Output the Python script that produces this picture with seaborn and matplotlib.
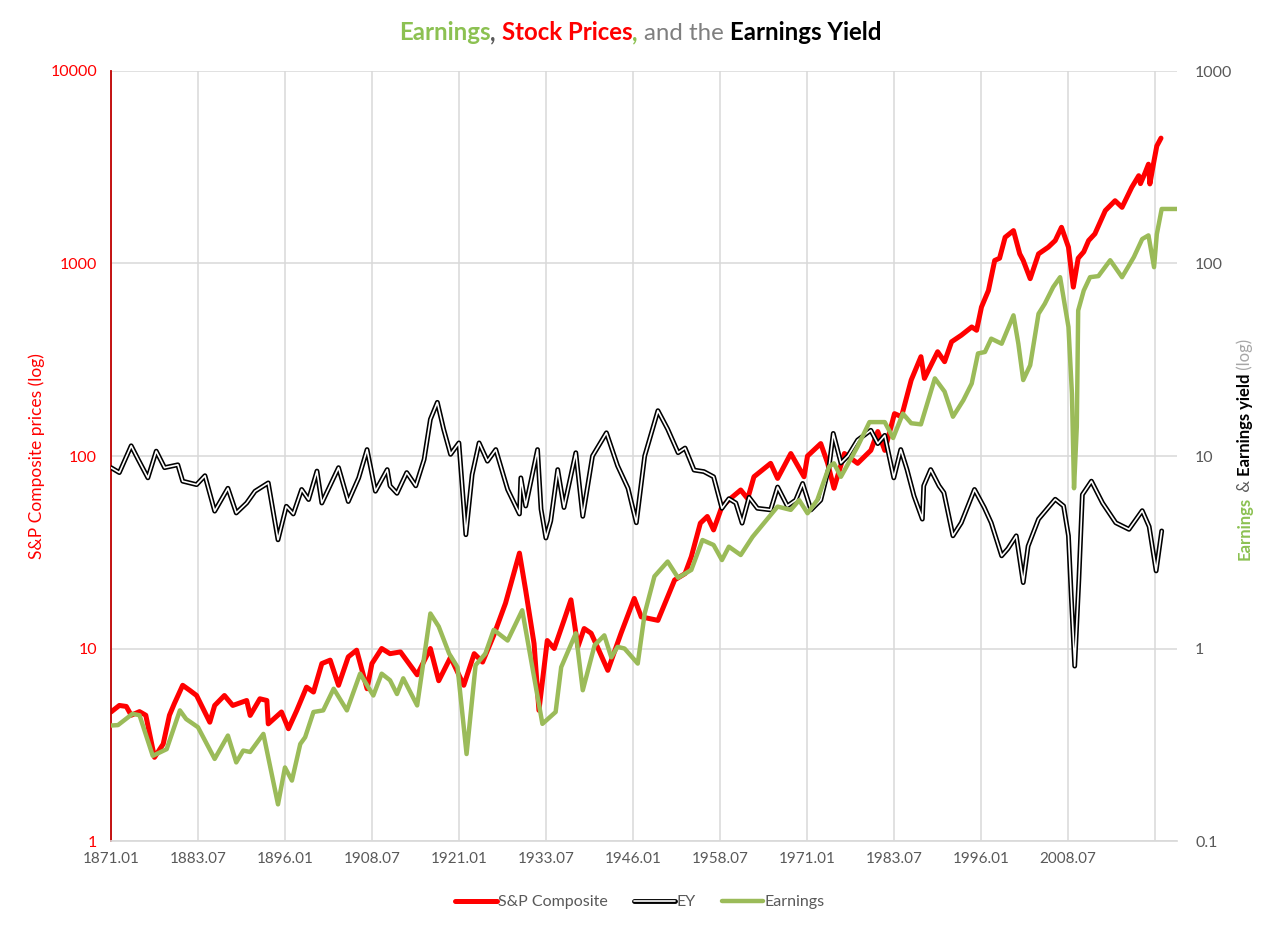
import matplotlib
matplotlib.use("Agg")
import matplotlib.pyplot as plt
import matplotlib.patheffects as pe
from matplotlib.lines import Line2D
from matplotlib.ticker import NullLocator
import seaborn as sns

# ----------------------------
# Data
# ----------------------------
price_years = [1871.0, 1872.2, 1873.2, 1873.9, 1875.1, 1876.0, 1877.25, 1878.5, 1879.4, 1880.1,
               1881.3, 1882.3, 1883.3, 1885.2, 1885.9, 1887.3, 1888.5, 1890.5, 1891.0, 1892.4,
               1893.4, 1893.6, 1895.5, 1896.5, 1897.7, 1899.1, 1900.1, 1901.3, 1902.5, 1903.7,
               1905.1, 1906.3, 1907.8, 1908.5, 1909.9, 1911.1, 1912.6, 1915.0, 1916.9, 1918.1,
               1919.8, 1921.7, 1923.2, 1924.4, 1926.0, 1927.7, 1929.7, 1930.6, 1931.8, 1932.5,
               1933.3, 1933.7, 1934.7, 1936.1, 1937.1, 1938.1, 1939.0, 1940.0, 1941.0, 1942.4,
               1944.3, 1946.2, 1947.2, 1949.6, 1952.0, 1953.5, 1954.4, 1955.7, 1956.7, 1957.6,
               1958.8, 1960.0, 1961.5, 1962.5, 1963.4, 1965.8, 1966.8, 1968.7, 1970.6, 1971.1,
               1973.0, 1974.0, 1974.9, 1976.4, 1978.3, 1980.2, 1981.2, 1982.2, 1983.6, 1984.6,
               1986.0, 1987.4, 1987.9, 1989.8, 1990.8, 1991.8, 1993.2, 1994.7, 1995.4, 1996.1,
               1997.1, 1998.0, 1998.7, 1999.5, 2000.7, 2001.6, 2002.1, 2003.1, 2004.3, 2005.7,
               2006.7, 2007.6, 2008.6, 2009.3, 2010.0, 2010.8, 2011.5, 2012.4, 2013.9, 2015.3,
               2016.3, 2017.7, 2018.7, 2018.95, 2019.6, 2020.1, 2020.3, 2020.9, 2021.3, 2021.9]
price_values = [4.68, 5.06, 5.0, 4.5, 4.7, 4.5, 2.72, 3.19, 4.5, 5.17,
                6.44, 6.07, 5.7, 4.14, 5.06, 5.7, 5.06, 5.37, 4.49, 5.48,
                5.37, 4.06, 4.68, 3.83, 4.77, 6.3, 5.94, 8.35, 8.7, 6.44,
                9.05, 9.8, 6.18, 8.35, 10.0, 9.4, 9.6, 7.3, 10.0, 6.8,
                9.0, 6.44, 9.4, 8.5, 11.7, 17.2, 31.3, 20.0, 10.6, 4.77,
                8.35, 11.0, 10.0, 14.0, 17.9, 10.2, 12.7, 12.0, 10.0, 7.7,
                12.0, 18.2, 14.6, 14.0, 22.7, 24.5, 30.0, 44.8, 48.5, 41.3,
                54.6, 60.0, 66.6, 60.0, 78.0, 91.6, 76.5, 103.0, 78.0, 100.0,
                116.0, 91.6, 68.0, 103.0, 91.6, 107.0, 134.0, 107.0, 166.0, 160.0,
                248.0, 328.0, 253.0, 348.0, 309.0, 392.0, 424.0, 468.0, 450.0, 594.0,
                724.0, 1037.0, 1065.0, 1368.0, 1482.0, 1122.0, 1037.0, 834.0, 1122.0, 1216.0,
                1316.0, 1542.0, 1216.0, 754.0, 1065.0, 1150.0, 1316.0, 1426.0, 1884.0, 2119.0,
                1958.0, 2488.0, 2859.0, 2600.0, 2950.0, 3280.0, 2590.0, 3420.0, 4080.0, 4480.0]

earn_years = [1871.0, 1872.0, 1874.1, 1875.1, 1877.0, 1879.0, 1880.9, 1881.8, 1883.5, 1885.9,
              1887.8, 1889.0, 1890.0, 1891.0, 1892.9, 1895.0, 1896.0, 1897.0, 1898.2, 1898.9,
              1900.1, 1901.5, 1903.0, 1904.9, 1906.8, 1908.7, 1909.9, 1911.1, 1912.1, 1913.0,
              1915.0, 1916.9, 1918.1, 1919.6, 1920.8, 1922.1, 1923.4, 1924.8, 1926.0, 1928.0,
              1930.1, 1931.3, 1933.0, 1934.9, 1935.7, 1937.8, 1938.8, 1940.5, 1941.9, 1942.9,
              1943.8, 1944.8, 1946.7, 1947.7, 1949.1, 1951.0, 1952.5, 1954.4, 1956.0, 1957.6,
              1958.8, 1959.8, 1961.5, 1963.2, 1966.8, 1968.7, 1969.9, 1971.1, 1972.5, 1974.2,
              1974.9, 1975.9, 1978.3, 1980.0, 1982.2, 1983.4, 1984.8, 1986.0, 1987.4, 1989.4,
              1990.8, 1992.0, 1993.5, 1994.7, 1995.6, 1996.6, 1997.5, 1999.0, 2000.7, 2001.4,
              2002.1, 2003.1, 2004.3, 2005.2, 2006.4, 2007.4, 2008.6, 2009.1, 2009.4, 2009.8,
              2010.0, 2010.8, 2011.7, 2012.9, 2014.6, 2016.3, 2018.0, 2019.2, 2020.1, 2020.9,
              2021.3, 2022.0, 2024.2]
earn_values = [0.398, 0.40, 0.458, 0.45, 0.277, 0.30, 0.477, 0.43, 0.39, 0.267,
               0.353, 0.256, 0.295, 0.29, 0.36, 0.155, 0.241, 0.206, 0.319, 0.346,
               0.468, 0.477, 0.618, 0.477, 0.74, 0.57, 0.74, 0.684, 0.58, 0.70,
               0.506, 1.52, 1.30, 0.94, 0.80, 0.283, 0.82, 0.94, 1.25, 1.10,
               1.58, 0.90, 0.406, 0.468, 0.80, 1.20, 0.607, 1.04, 1.17, 0.90,
               1.02, 1.00, 0.835, 1.52, 2.37, 2.83, 2.33, 2.56, 3.66, 3.45,
               2.88, 3.38, 3.06, 3.8, 5.46, 5.25, 5.9, 5.04, 5.9, 8.8,
               9.16, 7.8, 11.2, 15.0, 15.0, 12.4, 16.6, 14.8, 14.6, 25.3,
               21.6, 16.0, 19.5, 23.8, 34.1, 34.7, 40.7, 38.3, 53.8, 38.3,
               24.8, 29.6, 54.8, 61.8, 75.4, 84.9, 46.8, 21.1, 6.8, 14.2,
               57.0, 72.4, 84.9, 86.0, 104.0, 84.9, 108.0, 134.0, 140.0, 95.7,
               142.0, 192.0, 192.0]

ey_years = [1871.0, 1872.2, 1873.9, 1874.9, 1876.3, 1877.5, 1878.7, 1880.6, 1881.3, 1883.3,
            1884.5, 1885.9, 1887.8, 1889.0, 1890.5, 1891.7, 1893.6, 1895.0, 1896.2, 1897.2,
            1898.4, 1899.4, 1900.6, 1901.3, 1903.7, 1905.1, 1906.6, 1907.8, 1909.0, 1910.7,
            1911.1, 1912.1, 1913.5, 1914.8, 1916.0, 1916.9, 1917.9, 1918.8, 1919.8, 1921.0,
            1922.0, 1922.9, 1923.9, 1925.1, 1926.3, 1928.0, 1929.7, 1929.9, 1930.6, 1932.3,
            1932.8, 1933.5, 1934.2, 1935.2, 1936.1, 1937.8, 1938.8, 1940.2, 1942.2, 1943.8,
            1945.3, 1946.5, 1947.7, 1949.6, 1951.0, 1952.5, 1953.5, 1954.8, 1956.2, 1957.6,
            1958.8, 1959.8, 1960.8, 1961.7, 1962.7, 1963.9, 1965.8, 1966.8, 1968.2, 1969.4,
            1970.4, 1971.6, 1973.0, 1974.2, 1974.8, 1975.9, 1976.9, 1978.3, 1980.2, 1981.2,
            1982.2, 1983.5, 1984.5, 1985.4, 1986.4, 1987.6, 1987.8, 1988.8, 1990.0, 1990.7,
            1992.0, 1993.2, 1995.1, 1996.5, 1997.5, 1999.0, 1999.9, 2001.1, 2002.1, 2002.8,
            2004.3, 2006.7, 2007.9, 2008.6, 2009.0, 2009.5, 2010.1, 2010.6, 2011.9, 2013.5,
            2015.4, 2017.3, 2019.2, 2020.2, 2021.2, 2022.0]
ey_values = [8.7, 8.2, 11.3, 9.6, 7.7, 10.6, 8.7, 9.0, 7.4, 7.1,
             7.9, 5.17, 6.8, 5.06, 5.7, 6.56, 7.25, 3.67, 5.48, 5.0,
             6.7, 5.94, 8.35, 5.7, 8.7, 5.8, 7.7, 10.8, 6.56, 8.5,
             7.0, 6.4, 8.2, 7.0, 9.6, 15.5, 19.0, 13.8, 10.2, 11.7,
             3.9, 8.0, 11.7, 9.4, 10.8, 6.7, 5.0, 7.7, 5.5, 10.8,
             5.3, 3.75, 4.6, 8.5, 5.4, 10.4, 4.86, 10.0, 13.2, 8.9,
             6.8, 4.5, 10.0, 17.2, 13.8, 10.4, 11.0, 8.45, 8.3, 7.8,
             5.35, 6.0, 5.7, 4.48, 6.1, 5.35, 5.25, 6.9, 5.5, 5.9,
             7.2, 5.25, 5.9, 8.8, 13.1, 9.2, 10.0, 12.1, 13.6, 11.6,
             12.8, 7.7, 10.8, 8.5, 6.2, 4.7, 7.0, 8.5, 7.0, 6.45,
             3.85, 4.5, 6.7, 5.4, 4.5, 3.03, 3.3, 3.85, 2.2, 3.4,
             4.7, 5.96, 5.5, 3.85, 1.88, 0.81, 2.29, 6.3, 7.4, 5.7,
             4.5, 4.16, 5.2, 4.3, 2.53, 4.08]

x_tick_pos = [1871.0, 1883.5, 1896.0, 1908.5, 1921.0, 1933.5, 1946.0, 1958.5,
              1971.0, 1983.5, 1996.0, 2008.5, 2021.0]
x_tick_labels = ["1871.01", "1883.07", "1896.01", "1908.07", "1921.01", "1933.07",
                 "1946.01", "1958.07", "1971.01", "1983.07", "1996.01", "2008.07", ""]
left_ticks = [1, 10, 100, 1000, 10000]
left_labels = ["1", "10", "100", "1000", "10000"]
right_ticks = [0.1, 1, 10, 100, 1000]
right_labels = ["0.1", "1", "10", "100", "1000"]

RED = "#ff0000"
GREEN_LINE = "#9bbb59"
GREEN_TXT = "#8cc152"
GRAY = "#595959"
GRID = "#d9d9d9"

sns.set_theme(style="white")
plt.rcParams["font.family"] = ["Lato", "DejaVu Sans"]

W, H = 1280, 930
fig = plt.figure(figsize=(W / 100, H / 100), dpi=100)
ax = fig.add_axes([111 / W, 1 - 841 / H, (1177 - 111) / W, (841 - 71) / H])
ax2 = ax.twinx()

# ----------------------------
# Lines
# ----------------------------
sns.lineplot(x=price_years, y=price_values, ax=ax, color=RED, lw=3.6, estimator=None)
sns.lineplot(x=ey_years, y=ey_values, ax=ax2, color="white", lw=1.2, estimator=None)
outline = [pe.Stroke(linewidth=3.5, foreground="black"), pe.Normal()]
ax2.lines[-1].set_path_effects(outline)
sns.lineplot(x=earn_years, y=earn_values, ax=ax2, color=GREEN_LINE, lw=3.2, estimator=None)

# ----------------------------
# Axes styling
# ----------------------------
for a in (ax, ax2):
    a.set_yscale("log")
    a.set_xlim(1871.0, 2024.2)
    for s in a.spines.values():
        s.set_visible(False)

ax.set_ylim(1, 10000)
ax2.set_ylim(0.1, 1000)
ax.set_yticks(left_ticks, labels=left_labels)
ax2.set_yticks(right_ticks, labels=right_labels)
ax.yaxis.set_minor_locator(NullLocator())
ax2.yaxis.set_minor_locator(NullLocator())
ax.set_xticks(x_tick_pos, labels=x_tick_labels)

ax.spines["left"].set_visible(True)
ax.spines["left"].set_color("#c00000")
ax.spines["left"].set_linewidth(1.3)
ax.spines["bottom"].set_visible(True)
ax.spines["bottom"].set_color(GRID)

ax.grid(True, color=GRID, lw=1.1)
ax.set_axisbelow(True)
ax.tick_params(axis="y", length=0, pad=10, labelcolor=RED, labelsize=11.5)
ax.tick_params(axis="x", length=0, pad=8, labelcolor=GRAY, labelsize=11)
ax2.tick_params(axis="y", length=0, pad=13, labelcolor=GRAY, labelsize=11.5)
ax.set_xlabel("")
ax.set_ylabel("")
ax2.set_ylabel("")

fig.text(37 / W, 1 - 456 / H, "S&P Composite prices (log)", color=RED, fontsize=12.5,
         rotation=90, ha="center", va="center")

# ----------------------------
# Multi-coloured title and right axis label
# ----------------------------
renderer = fig.canvas.get_renderer()


def run_of_text(pieces, x0, y0, vertical=False, size=16):
    items = []
    for s, c, w in pieces:
        t = fig.text(0, 0, s, color=c, fontweight=w, fontsize=size,
                     rotation=90 if vertical else 0,
                     ha="center" if vertical else "left",
                     va="bottom" if vertical else "center")
        items.append(t)
    sizes = []
    for t in items:
        bb = t.get_window_extent(renderer)
        sizes.append(bb.height if vertical else bb.width)
    total = sum(sizes)
    pos = (y0 if vertical else x0) - total / 2
    for t, sz in zip(items, sizes):
        if vertical:
            t.set_position((x0 / W, pos / H))
        else:
            t.set_position((pos / W, y0 / H))
        pos += sz


run_of_text([("Earnings", GREEN_TXT, "bold"), (", ", GRAY, "bold"),
             ("Stock Prices", RED, "bold"), (", ", GREEN_TXT, "bold"),
             ("and the ", "#7f7f7f", "normal"), ("Earnings Yield", "black", "bold")],
            640, H - 33, size=17.3)

run_of_text([("Earnings", GREEN_TXT, "bold"), (" & ", GRAY, "normal"),
             ("Earnings yield", "black", "bold"), (" (log)", "#a6a6a6", "normal")],
            1245, H - 449, vertical=True, size=12)

# ----------------------------
# Legend
# ----------------------------
handles = [
    Line2D([], [], color=RED, lw=3.6),
    Line2D([], [], color="white", lw=1.2, path_effects=outline),
    Line2D([], [], color=GREEN_LINE, lw=3.2),
]
fig.legend(handles, ["S&P Composite", "EY", "Earnings"], loc="center",
           bbox_to_anchor=(0.5, 28 / H), ncol=3, frameon=False, fontsize=11.5,
           labelcolor=GRAY, handlelength=2.6, handletextpad=0.1, columnspacing=1.6)

fig.savefig("out.png", dpi=100)
